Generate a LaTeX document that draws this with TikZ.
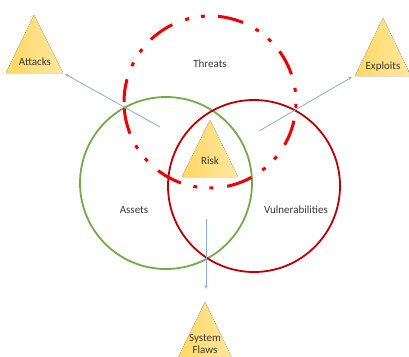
\documentclass[tikz,border=0pt]{standalone}
\usepackage{fontspec}
\setmainfont{Carlito}
\usetikzlibrary{arrows.meta}
\definecolor{assetgreen}{HTML}{70AD47}
\definecolor{vulnred}{HTML}{C00000}
\definecolor{threatred}{HTML}{F00000}
\definecolor{linkblue}{HTML}{8FAADC}
\definecolor{trileft}{HTML}{FFD862}
\definecolor{triright}{HTML}{FFE7A0}
\tikzset{
  tri/.style={left color=trileft, right color=triright, draw=none},
  lbl/.style={font={\fontsize{11}{12}\selectfont}, text=black!78, inner sep=1pt, align=center},
  link/.style={draw=linkblue, line width=0.8pt, -{Stealth[length=4pt,width=3pt]}}
}
\begin{document}
\begin{tikzpicture}[x=1pt, y=-1pt]
\useasboundingbox (0,0) rectangle (409,356);
\fill[tri] (34,15) -- (63,73) -- (6,73) -- cycle;
\fill[tri] (383,18) -- (411,76) -- (355,76) -- cycle;
\fill[tri] (210,120) -- (238,177) -- (182,177) -- cycle;
\fill[tri] (205,302) -- (233,360) -- (177,360) -- cycle;
\draw[assetgreen, line width=1.8pt] (166,183) circle[radius=86];
\draw[vulnred, line width=1.8pt] (254,186) circle[radius=86];
\draw[threatred, line width=3pt, dash pattern=on 26pt off 14pt on 4pt off 12pt on 4pt off 13pt, dash phase=3pt]
  (210,102) ++(180:86) arc[start angle=180, end angle=540, radius=86];
\node[lbl] (threats) at (210,64) {Threats};
\node[lbl] (assets) at (134,210) {Assets};
\node[lbl] (vulns) at (296,210) {Vulnerabilities};
\node[lbl] (attacks) at (35,62) {Attacks};
\node[lbl] (exploits) at (383,67) {Exploits};
\node[lbl] (risk) at (210,161) {Risk};
\node[lbl, font={\fontsize{11}{11.5}\selectfont}] (flaws) at (205,344) {System\\Flaws};
\coordinate (fromassets) at (160,127);
\coordinate (fromvulns) at (259,131);
\coordinate (fromrisk) at (206,219);
\coordinate (attackstip) at (65,74);
\coordinate (exploitstip) at (352,77);
\coordinate (flawstip) at (206,289);
\draw[link] (fromassets) -- (attackstip);
\draw[link] (fromvulns) -- (exploitstip);
\draw[link] (fromrisk) -- (flawstip);
\end{tikzpicture}
\end{document}
